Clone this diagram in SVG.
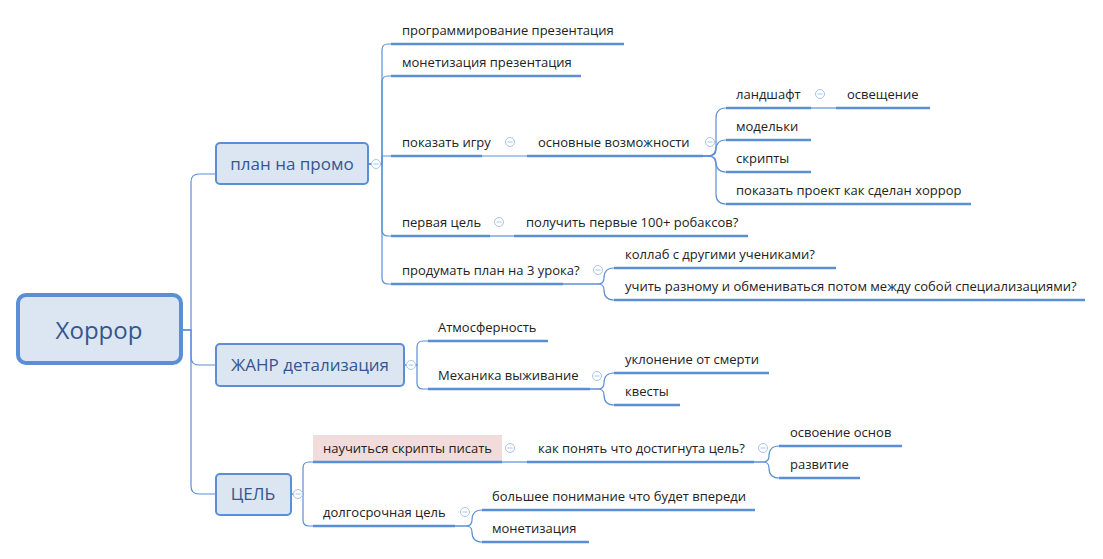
<svg xmlns="http://www.w3.org/2000/svg" width="1103" height="559" viewBox="0 0 1103 559">
<style>
.c{fill:none;stroke:#5b8fd5;stroke-width:1.2}
.u{stroke:#5b8fd5;stroke-width:2.6}
.t{font-family:"Open Sans","DejaVu Sans",sans-serif;font-size:13px;fill:#222}
.m{font-family:"Open Sans","DejaVu Sans",sans-serif;font-size:17px;fill:#34578f}
.box{fill:#dce6f2;stroke:#5b8fd5;stroke-width:2}
.col{fill:#fff;stroke:#a9c4ea;stroke-width:1}
.col line{stroke:#a9c4ea}
</style>
<defs>
<g id="minus"><circle r="4.5" fill="#fff" stroke="#a9c4ea"/><line x1="-2.5" x2="2.5" y1="0" y2="0" stroke="#a9c4ea"/></g>
</defs>
<rect width="1103" height="559" fill="#fff"/>
<g id="connectors">
<path class="c" d="M182,330 H191 V182 Q191,174 199,174 H216"/>
<path class="c" d="M182,330 H191 V357 Q191,365 199,365 H216"/>
<path class="c" d="M182,330 H191 V486 Q191,494 199,494 H216"/>
<path class="c" d="M368,164 H382 V50 Q382,44 388,44 H391"/>
<path class="c" d="M368,164 H382 V82 Q382,76 388,76 H391"/>
<path class="c" d="M368,164 H382 V156 H391"/>
<path class="c" d="M368,164 H382 V230 Q382,236 388,236 H391"/>
<path class="c" d="M368,164 H382 V278 Q382,284 388,284 H391"/>
<path class="c" d="M482,156 H527"/>
<path class="c" d="M703,156 H708 Q716,156 716,146 V118 Q716,108 726,108"/>
<path class="c" d="M703,156 H708 Q716,156 716,150 Q716,140 726,140"/>
<path class="c" d="M703,156 H708 Q716,156 716,162 Q716,172 726,172"/>
<path class="c" d="M703,156 H708 Q716,156 716,166 V194 Q716,204 726,204"/>
<path class="c" d="M811,108 H836"/>
<path class="c" d="M490,236 H514"/>
<path class="c" d="M563,284 H598 Q604,284 604,278 Q604,268 614,268"/>
<path class="c" d="M563,284 H598 Q604,284 604,290 Q604,300 614,300"/>
<path class="c" d="M404,365 H417 V347 Q417,341 423,341 H428"/>
<path class="c" d="M404,365 H417 V383 Q417,389 423,389 H428"/>
<path class="c" d="M590,389 H598 Q604,389 604,383 Q604,373 614,373"/>
<path class="c" d="M590,389 H598 Q604,389 604,395 Q604,405 614,405"/>
<path class="c" d="M291,494 H303 V468 Q303,462 309,462 H313"/>
<path class="c" d="M291,494 H303 V520 Q303,526 309,526 H313"/>
<path class="c" d="M502,462 H527"/>
<path class="c" d="M754,462 H763 Q769,462 769,456 Q769,446 779,446"/>
<path class="c" d="M754,462 H763 Q769,462 769,468 Q769,478 779,478"/>
<path class="c" d="M455,526 H466 Q472,526 472,520 Q472,510 482,510"/>
<path class="c" d="M455,526 H466 Q472,526 472,532 Q472,542 482,542"/>
</g>
<g id="root"><rect x="18" y="295" width="163" height="68" rx="8" fill="#dce6f2" stroke="#5b8fd5" stroke-width="4"/><text x="99" y="339" text-anchor="middle" font-family="Open Sans, DejaVu Sans, sans-serif" font-size="24" fill="#34578f">Хоррор</text></g>
<g id="n-plan"><rect class="box" x="216" y="143" width="152" height="41" rx="4"/><text class="m" x="292" y="170" text-anchor="middle">план на промо</text><use href="#minus" x="376" y="164"/></g>
<g id="n-genre"><rect class="box" x="216" y="344" width="188" height="42" rx="4"/><text class="m" x="310" y="371" text-anchor="middle">ЖАНР детализация</text><use href="#minus" x="411" y="365"/></g>
<g id="n-goal"><rect class="box" x="216" y="474" width="75" height="41" rx="4"/><text class="m" x="253" y="500" text-anchor="middle">ЦЕЛЬ</text><use href="#minus" x="298" y="494"/></g>

<g id="n1"><text class="t" x="402" y="35">программирование презентация</text><line class="u" x1="391" y1="44" x2="624" y2="44"/></g>
<g id="n2"><text class="t" x="402" y="67">монетизация презентация</text><line class="u" x1="391" y1="76" x2="581" y2="76"/></g>
<g id="n3"><text class="t" x="402" y="147">показать игру</text><line class="u" x1="391" y1="156" x2="482" y2="156"/><use href="#minus" x="510" y="142"/></g>
<g id="n4"><text class="t" x="538" y="147">основные возможности</text><line class="u" x1="527" y1="156" x2="703" y2="156"/><use href="#minus" x="710" y="142"/></g>
<g id="n5"><text class="t" x="736" y="99">ландшафт</text><line class="u" x1="726" y1="108" x2="811" y2="108"/><use href="#minus" x="820" y="94"/></g>
<g id="n6"><text class="t" x="847" y="99">освещение</text><line class="u" x1="836" y1="108" x2="930" y2="108"/></g>
<g id="n7"><text class="t" x="736" y="131">модельки</text><line class="u" x1="726" y1="140" x2="811" y2="140"/></g>
<g id="n8"><text class="t" x="736" y="163">скрипты</text><line class="u" x1="726" y1="172" x2="811" y2="172"/></g>
<g id="n9"><text class="t" x="736" y="195">показать проект как сделан хоррор</text><line class="u" x1="726" y1="204" x2="971" y2="204"/></g>
<g id="n10"><text class="t" x="402" y="227">первая цель</text><line class="u" x1="391" y1="236" x2="490" y2="236"/><use href="#minus" x="499" y="222"/></g>
<g id="n11"><text class="t" x="526" y="227">получить первые 100+ робаксов?</text><line class="u" x1="514" y1="236" x2="748" y2="236"/></g>
<g id="n12"><text class="t" x="402" y="275">продумать план на 3 урока?</text><line class="u" x1="391" y1="284" x2="563" y2="284"/><use href="#minus" x="598" y="270"/></g>
<g id="n13"><text class="t" x="625" y="259">коллаб с другими учениками?</text><line class="u" x1="614" y1="268" x2="836" y2="268"/></g>
<g id="n14"><text class="t" x="625" y="291">учить разному и обмениваться потом между собой специализациями?</text><line class="u" x1="614" y1="300" x2="1085" y2="300"/></g>
<g id="n15"><text class="t" x="438" y="332">Атмосферность</text><line class="u" x1="428" y1="341" x2="548" y2="341"/></g>
<g id="n16"><text class="t" x="438" y="380">Механика выживание</text><line class="u" x1="428" y1="389" x2="590" y2="389"/><use href="#minus" x="597" y="376"/></g>
<g id="n17"><text class="t" x="625" y="364">уклонение от смерти</text><line class="u" x1="614" y1="373" x2="769" y2="373"/></g>
<g id="n18"><text class="t" x="625" y="396">квесты</text><line class="u" x1="614" y1="405" x2="680" y2="405"/></g>
<g id="n19"><rect x="313" y="435" width="189" height="27" fill="#f2dcdb"/><text class="t" x="323" y="453">научиться скрипты писать</text><line class="u" x1="313" y1="462" x2="502" y2="462"/><use href="#minus" x="510" y="448"/></g>
<g id="n20"><text class="t" x="538" y="453">как понять что достигнута цель?</text><line class="u" x1="527" y1="462" x2="754" y2="462"/><use href="#minus" x="763" y="448"/></g>
<g id="n21"><text class="t" x="790" y="437">освоение основ</text><line class="u" x1="779" y1="446" x2="902" y2="446"/></g>
<g id="n22"><text class="t" x="790" y="469">развитие</text><line class="u" x1="779" y1="478" x2="860" y2="478"/></g>
<g id="n23"><text class="t" x="323" y="517">долгосрочная цель</text><line class="u" x1="313" y1="526" x2="455" y2="526"/><use href="#minus" x="465" y="512"/></g>
<g id="n24"><text class="t" x="492" y="501">большее понимание что будет впереди</text><line class="u" x1="482" y1="510" x2="755" y2="510"/></g>
<g id="n25"><text class="t" x="492" y="533">монетизация</text><line class="u" x1="482" y1="542" x2="589" y2="542"/></g>
</svg>
